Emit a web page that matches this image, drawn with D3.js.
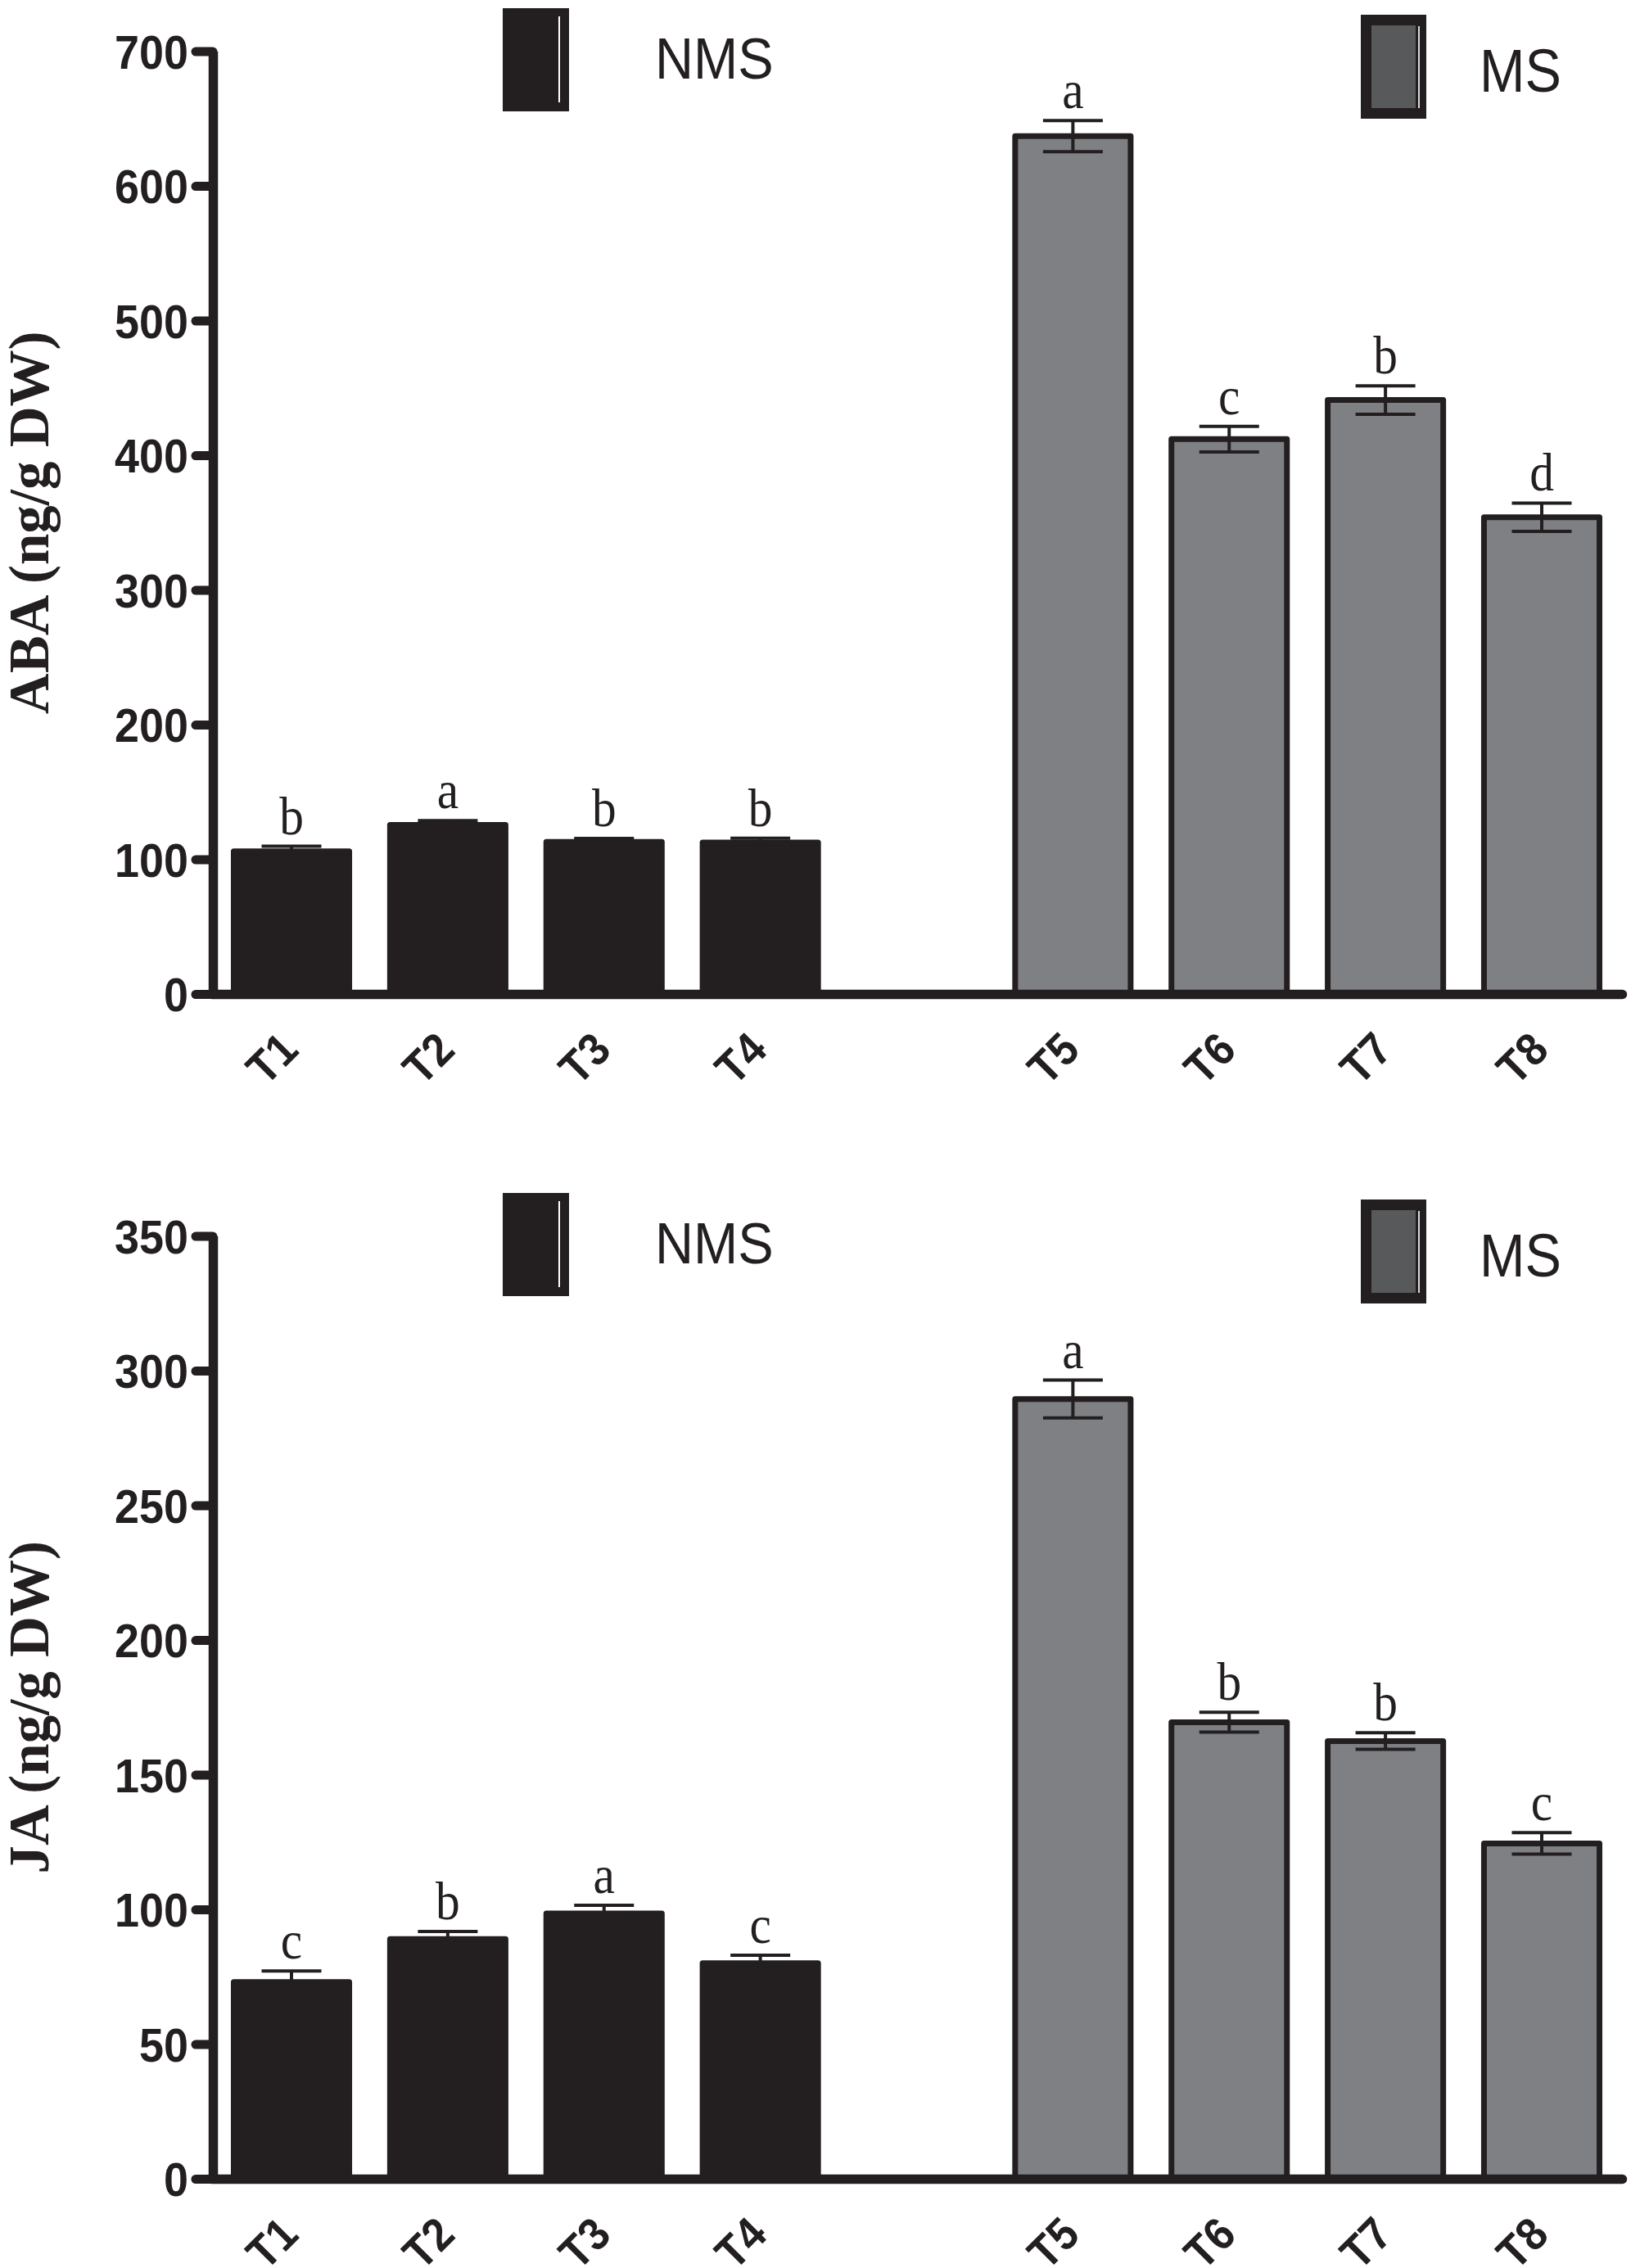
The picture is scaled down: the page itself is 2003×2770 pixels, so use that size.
<!DOCTYPE html>
<html>
<head>
<meta charset="utf-8">
<script src="https://cdn.jsdelivr.net/npm/d3@7"></script>
<style>
  body { margin: 0; background: #fff; }
  svg { display: block; }
</style>
</head>
<body>
<div id="container"></div>
<script>
/* CONSTANTS AND GLOBALS */
const width = 2003,
      height = 2770,
      axisX = 260,
      plotTop = 62.6,
      plotBottom = 1214,
      panelOffset = 1447,
      ink = "#231f20";

/* DATA */
const treatments = ["T1", "T2", "T3", "T4", "T5", "T6", "T7", "T8"];
// empty slot between the two groups
const slots = ["T1", "T2", "T3", "T4", "gap", "T5", "T6", "T7", "T8"];
const groups = ["NMS", "NMS", "NMS", "NMS", "MS", "MS", "MS", "MS"];
const legendLabels = ["NMS", "MS"];

const abaValues = [106, 125.5, 113, 112.5, 637, 412, 441, 354];
const abaErrors = [3.7, 3.3, 2.5, 3.2, 11.5, 9.5, 10.5, 10.5];
const abaLetters = ["b", "a", "b", "b", "a", "c", "b", "d"];
const abaTicks = [0, 100, 200, 300, 400, 500, 600, 700];

const jaValues = [73, 89, 98.5, 80, 289.5, 169.5, 162.5, 124.5];
const jaErrors = [4.1, 2.8, 3, 3, 7, 3.7, 3.1, 4];
const jaLetters = ["c", "b", "a", "c", "a", "b", "b", "c"];
const jaTicks = [0, 50, 100, 150, 200, 250, 300, 350];

const colorScale = d3.scaleOrdinal()
  .domain(legendLabels)
  .range([ink, "#7e8083"]);

/* SVG */
const svg = d3.select("#container")
  .append("svg")
  .attr("width", width)
  .attr("height", height);

svg.append("rect")
  .attr("width", width)
  .attr("height", height)
  .attr("fill", "#fff");

const xScale = d3.scaleBand()
  .domain(slots)
  .range([258, 1981])
  .paddingInner(0.261)
  .paddingOuter(0.144);

/* DRAW ONE PANEL */
const drawPanel = (offset, values, errors, letters, ticks, title) => {
  const g = svg.append("g")
    .attr("transform", `translate(0, ${offset})`);

  const yScale = d3.scaleLinear()
    .domain([0, d3.max(ticks)])
    .range([plotBottom, plotTop]);

  const rows = treatments.map((t, i) => ({
    t, group: groups[i], v: values[i], e: errors[i], letter: letters[i]
  }));

  // bars
  g.selectAll(".bar")
    .data(rows)
    .join("rect")
    .attr("class", "bar")
    .attr("x", d => xScale(d.t))
    .attr("width", xScale.bandwidth())
    .attr("y", d => yScale(d.v))
    .attr("height", d => yScale(0) - yScale(d.v))
    .attr("fill", d => colorScale(d.group))
    .attr("stroke", ink)
    .attr("stroke-width", 7)
    .attr("stroke-linejoin", "round");

  // error bars
  const cx = d => xScale(d.t) + xScale.bandwidth() / 2;
  const capHalf = 36.5;
  const err = g.selectAll(".err")
    .data(rows)
    .join("g")
    .attr("class", "err")
    .attr("stroke", ink)
    .attr("stroke-width", 4);
  err.append("line")
    .attr("x1", cx).attr("x2", cx)
    .attr("y1", d => yScale(d.v - d.e))
    .attr("y2", d => yScale(d.v + d.e));
  err.append("line")
    .attr("x1", d => cx(d) - capHalf).attr("x2", d => cx(d) + capHalf)
    .attr("y1", d => yScale(d.v + d.e))
    .attr("y2", d => yScale(d.v + d.e));
  err.append("line")
    .attr("x1", d => cx(d) - capHalf).attr("x2", d => cx(d) + capHalf)
    .attr("y1", d => yScale(d.v - d.e))
    .attr("y2", d => yScale(d.v - d.e));

  // significance letters
  g.selectAll(".letter")
    .data(rows)
    .join("text")
    .attr("class", "letter")
    .attr("transform", d => `translate(${cx(d)}, ${yScale(d.v + d.e) - 15}) scale(0.9,1)`)
    .attr("text-anchor", "middle")
    .attr("font-family", "'Liberation Serif', 'Times New Roman', serif")
    .attr("font-size", 66)
    .attr("fill", ink)
    .text(d => d.letter);

  // x axis
  const xAxis = d3.axisBottom(xScale)
    .tickValues(treatments)
    .tickSize(0)
    .tickSizeOuter(0);

  const gx = g.append("g")
    .attr("transform", `translate(0, ${plotBottom})`)
    .call(xAxis)
    .attr("font-family", "'Liberation Sans', Arial, sans-serif")
    .attr("font-size", 56)
    .attr("font-weight", "bold");
  gx.select(".domain")
    .attr("stroke", ink)
    .attr("stroke-width", 11.5)
    .attr("stroke-linecap", "round");
  gx.selectAll(".tick text")
    .attr("fill", ink)
    .attr("y", 0)
    .attr("dy", 0)
    .attr("text-anchor", "end")
    .attr("transform", "translate(11, 71) rotate(-45) scale(0.92,1)");

  // y axis
  const yAxis = d3.axisLeft(yScale)
    .tickValues(ticks)
    .tickSize(21)
    .tickPadding(9)
    .tickSizeOuter(0);

  const gy = g.append("g")
    .attr("transform", `translate(${axisX}, 0)`)
    .call(yAxis)
    .attr("font-family", "'Liberation Sans', Arial, sans-serif")
    .attr("font-size", 58)
    .attr("font-weight", "bold");
  gy.select(".domain")
    .attr("stroke", ink)
    .attr("stroke-width", 11.5);
  gy.selectAll(".tick line")
    .attr("stroke", ink)
    .attr("stroke-width", 11)
    .attr("stroke-linecap", "round");
  gy.selectAll(".tick text")
    .attr("fill", ink)
    .attr("x", -30 / 0.93)
    .attr("dy", "0.36em")
    .attr("transform", "scale(0.93,1)");

  // y title
  g.append("text")
    .attr("transform", `translate(59, ${(plotTop + plotBottom) / 2}) rotate(-90)`)
    .attr("text-anchor", "middle")
    .attr("font-family", "'Liberation Serif', 'Times New Roman', serif")
    .attr("font-weight", "bold")
    .attr("font-size", 69)
    .attr("fill", ink)
    .text(title);

  // legend: NMS
  g.append("rect")
    .attr("x", 614).attr("y", 10)
    .attr("width", 81).attr("height", 126)
    .attr("fill", colorScale("NMS"));
  g.append("line")
    .attr("x1", 683).attr("x2", 683)
    .attr("y1", 20).attr("y2", 125)
    .attr("stroke", "#fff")
    .attr("stroke-width", 2);
  g.append("text")
    .attr("transform", "translate(800, 96) scale(0.93,1)")
    .attr("font-family", "'Liberation Sans', Arial, sans-serif")
    .attr("font-size", 70)
    .attr("fill", ink)
    .text(legendLabels[0]);

  // legend: MS
  g.append("rect")
    .attr("x", 1668.5).attr("y", 24.5)
    .attr("width", 67).attr("height", 114)
    .attr("fill", "#58595b")
    .attr("stroke", ink)
    .attr("stroke-width", 13);
  g.append("line")
    .attr("x1", 1733).attr("x2", 1733)
    .attr("y1", 32).attr("y2", 132)
    .attr("stroke", "#d8d8d8")
    .attr("stroke-width", 2);
  g.append("text")
    .attr("transform", "translate(1807, 112) scale(0.9,1)")
    .attr("font-family", "'Liberation Sans', Arial, sans-serif")
    .attr("font-size", 74)
    .attr("fill", ink)
    .text(legendLabels[1]);
};

drawPanel(0, abaValues, abaErrors, abaLetters, abaTicks, "ABA (ng/g DW)");
drawPanel(panelOffset, jaValues, jaErrors, jaLetters, jaTicks, "JA (ng/g DW)");
</script>
</body>
</html>
